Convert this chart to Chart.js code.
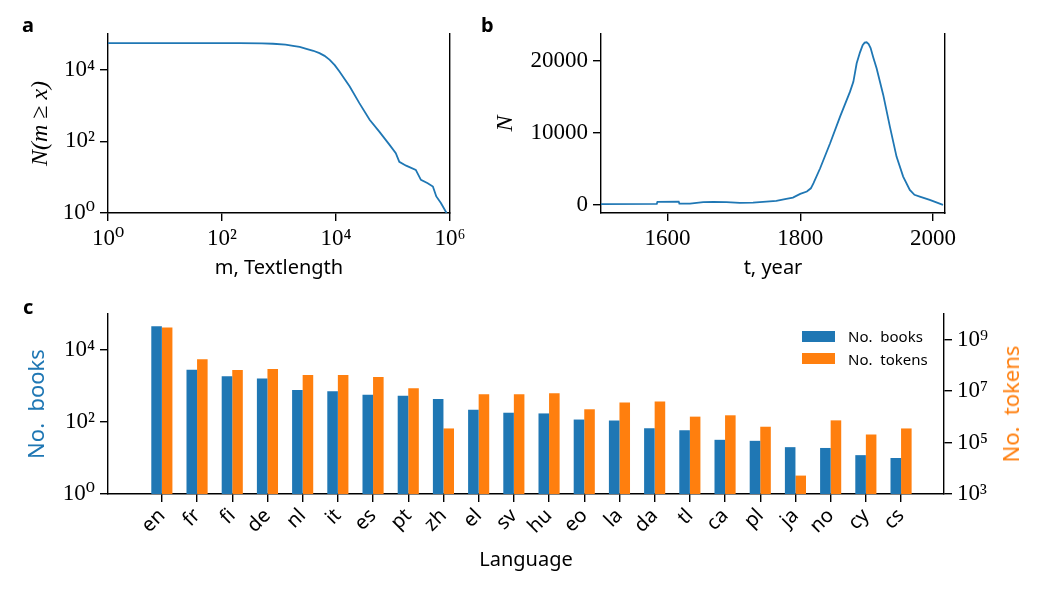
<!DOCTYPE html>
<html>
<head>
<meta charset="utf-8">
<script src="https://cdn.jsdelivr.net/npm/chart.js@4.4.0/dist/chart.umd.min.js"></script>
<style>
body { margin: 0; background: #fff; }
#fig { position: relative; width: 1050px; height: 600px; background: #fff; font-family: "Noto Sans", sans-serif; }
#fig canvas { position: absolute; }
.panel { position: absolute; font-weight: bold; font-size: 20px; line-height: 20px; color: #000; }
.legend { position: absolute; font-size: 15px; line-height: 18px; color: #000; white-space: nowrap; }
.swatch { position: absolute; width: 33px; height: 11px; }
#tokTitle { position: absolute; left: 1010px; top: 404px; transform: translate(-50%, -50%) rotate(-90deg);
  font-size: 22px; color: #ff7f0e; white-space: nowrap; }
</style>
</head>
<body>
<div id="fig">
  <canvas id="panelA" width="470" height="290" style="left:0px;top:0px"></canvas>
  <canvas id="panelB" width="580" height="290" style="left:470px;top:0px"></canvas>
  <canvas id="panelC" width="1050" height="310" style="left:0px;top:290px"></canvas>
  <div class="panel" style="left:22px;top:15px">a</div>
  <div class="panel" style="left:481px;top:15px">b</div>
  <div class="panel" style="left:23px;top:297px">c</div>
  <div class="swatch" style="left:802px;top:331px;background:#1f77b4"></div>
  <div class="swatch" style="left:802px;top:353px;background:#ff7f0e"></div>
  <div class="legend" style="left:848px;top:327px">No.&nbsp; books</div>
  <div class="legend" style="left:848px;top:350px">No.&nbsp; tokens</div>
  <div id="tokTitle">No.&nbsp; tokens</div>
</div>

<script>
// ---- panel a: number of books with length >= m
var textLength = [1, 10, 100, 204, 500, 785, 1300, 1760, 2300, 3020, 4000, 5130, 6300, 7760, 9500, 11500,
  17400, 25700, 38900, 57500, 87100, 112000, 129000, 170000, 251000, 309000, 407000, 501000, 575000, 692000, 871000];
var nAtLeast = [55900, 55900, 55900, 55900, 55000, 53400, 50500, 46900, 43500, 38700, 34000, 29300, 24500, 19000, 13500, 8950,
  3400, 1170, 400, 187, 80, 47, 27, 21, 16, 8.4, 6.8, 5.5, 2.9, 1.9, 1];
var aXTicks = [1, 100, 1e4, 1e6];
var aYTicks = [1, 100, 1e4];

// ---- panel b: books per year
var years = [1500, 1584, 1585, 1617, 1618, 1634, 1654, 1669, 1689, 1709, 1729, 1749, 1764, 1779, 1789,
  1800, 1810, 1816, 1820, 1830, 1845, 1860, 1875, 1880, 1885, 1890, 1894, 1897, 1900, 1903, 1906, 1910, 1915, 1925,
  1935, 1945, 1955, 1965, 1972, 1980, 1995, 2015];
var booksPerYear = [100, 140, 420, 460, 185, 185, 370, 420, 370, 280, 325, 460, 555, 830, 1020,
  1530, 1850, 2300, 3010, 5090, 8560, 12270, 15740, 17100, 19680, 21200, 22200, 22550, 22600, 22350, 21800, 20500, 19000, 15280,
  10880, 6710, 3930, 2080, 1400, 1160, 690, 0];
var bXTicks = [1600, 1800, 2000];
var bYTicks = [0, 10000, 20000];

// ---- panel c: books and tokens per language
var langs = ['en', 'fr', 'fi', 'de', 'nl', 'it', 'es', 'pt', 'zh', 'el', 'sv', 'hu', 'eo', 'la', 'da', 'tl',
  'ca', 'pl', 'ja', 'no', 'cy', 'cs'];
var books = [46000, 2810, 1880, 1620, 776, 713, 575, 540, 435, 219, 181, 173, 117, 110, 67, 59, 32, 30, 20, 19, 12, 10];
var tokens = [2.96e9, 1.75e8, 6.7e7, 7.3e7, 4.24e7, 4.24e7, 3.54e7, 1.31e7, 3.54e5, 7.6e6, 7.6e6, 8.3e6, 1.97e6,
  3.6e6, 3.94e6, 1.02e6, 1.15e6, 4.13e5, 5200, 7.3e5, 2.06e5, 3.54e5];
var cBookTicks = [1, 100, 1e4];
var cTokenTicks = [1e3, 1e5, 1e7, 1e9];

var BLUE = '#1f77b4', ORANGE = '#ff7f0e';
var SERIF = '"Liberation Serif", "DejaVu Serif", serif';
var SANS = '"Noto Sans", sans-serif';
var tickFont = {family: SERIF, size: 23};
var sup = ['\u2070', '\u00b9', '\u00b2', '\u00b3', '\u2074', '\u2075', '\u2076', '\u2077', '\u2078', '\u2079'];

Chart.defaults.color = '#000';
Chart.defaults.animation = false;
Chart.defaults.plugins.legend.display = false;
Chart.defaults.plugins.tooltip.enabled = false;

function pow10(v) {
  return '10' + sup[Math.round(Math.log10(v))];
}
function fixTicks(list) {
  return function(scale) { scale.ticks = list.map(function(v) { return {value: v}; }); };
}
function grid() {
  return {drawOnChartArea: false, color: '#000', lineWidth: 1.4, tickLength: 8, offset: false};
}
function border() {
  return {display: true, color: '#000', width: 1.4};
}
function rightSpine(w) {
  return {position: 'right', display: true, grid: {display: false}, ticks: {display: false},
    border: border(), afterFit: function(s) { s.width = w; }};
}
function xy(xs, ys) {
  return xs.map(function(x, i) { return {x: x, y: ys[i]}; });
}

new Chart(document.getElementById('panelA'), {
  type: 'scatter',
  data: {datasets: [{data: xy(textLength, nAtLeast), showLine: true, pointRadius: 0,
    borderColor: BLUE, borderWidth: 1.8}]},
  options: {
    responsive: false,
    layout: {padding: {top: 34, left: 0, right: 0, bottom: 0}},
    scales: {
      x: {type: 'logarithmic', min: 1, max: 1e6, grid: grid(), border: border(),
        afterBuildTicks: fixTicks(aXTicks),
        ticks: {font: tickFont, padding: 4, maxRotation: 0, autoSkip: false, callback: pow10},
        title: {display: true, text: 'm, Textlength', font: {family: SANS, size: 20}, padding: {top: 0, bottom: 10}},
        afterFit: function(s) { s.height = 77; }},
      y: {type: 'logarithmic', min: 1, max: 1e5, grid: grid(), border: border(),
        afterBuildTicks: fixTicks(aYTicks),
        ticks: {font: tickFont, padding: 5, callback: pow10},
        title: {display: true, text: 'N(m \u2265 x)', font: {family: SERIF, size: 24, style: 'italic'}, padding: {top: 26, bottom: 0}},
        afterFit: function(s) { s.width = 108; }},
      y2: rightSpine(20)
    }
  }
});

new Chart(document.getElementById('panelB'), {
  type: 'scatter',
  data: {datasets: [{data: xy(years, booksPerYear), showLine: true, pointRadius: 0,
    borderColor: BLUE, borderWidth: 1.8}]},
  options: {
    responsive: false,
    layout: {padding: {top: 34, left: 0, right: 0, bottom: 0}},
    scales: {
      x: {type: 'linear', min: 1500, max: 2018, grid: grid(), border: border(),
        afterBuildTicks: fixTicks(bXTicks),
        ticks: {font: tickFont, padding: 4, maxRotation: 0, autoSkip: false, callback: function(v) { return String(v); }},
        title: {display: true, text: 't, year', font: {family: SANS, size: 20}, padding: {top: 0, bottom: 10}},
        afterFit: function(s) { s.height = 77; }},
      y: {type: 'linear', min: -1130, max: 23750, grid: grid(), border: border(),
        afterBuildTicks: fixTicks(bYTicks),
        ticks: {font: tickFont, padding: 5, callback: function(v) { return String(v); }},
        title: {display: true, text: 'N', font: {family: SERIF, size: 24, style: 'italic'}, padding: {top: 21, bottom: 0}},
        afterFit: function(s) { s.width = 131; }},
      y2: rightSpine(105)
    }
  }
});

new Chart(document.getElementById('panelC'), {
  type: 'bar',
  data: {datasets: [
    {label: 'No. books', data: xy(langs.map(function(l, i) { return i; }), books), backgroundColor: BLUE, yAxisID: 'y'},
    {label: 'No. tokens', data: xy(langs.map(function(l, i) { return i; }), tokens), backgroundColor: ORANGE, yAxisID: 'y2'}
  ]},
  options: {
    responsive: false,
    categoryPercentage: 0.6,
    barPercentage: 1.0,
    layout: {padding: {top: 24, left: 0, right: 0, bottom: 0}},
    scales: {
      x: {type: 'linear', min: -1.53, max: 22.22, offset: false, grid: grid(), border: border(),
        afterBuildTicks: fixTicks(langs.map(function(l, i) { return i; })),
        ticks: {font: {family: SANS, size: 20}, padding: 2, minRotation: 45, maxRotation: 45, autoSkip: false,
          callback: function(v) { return langs[v] || ''; }},
        title: {display: true, text: 'Language', font: {family: SANS, size: 20}, padding: {top: 0, bottom: 28}},
        afterFit: function(s) { s.height = 106; }},
      y: {type: 'logarithmic', position: 'left', min: 1, max: 1e5, grid: grid(), border: border(),
        afterBuildTicks: fixTicks(cBookTicks),
        ticks: {font: tickFont, padding: 5, callback: pow10},
        title: {display: true, text: 'No.  books', color: BLUE, font: {family: SANS, size: 22}, padding: {top: 25, bottom: 0}},
        afterFit: function(s) { s.width = 108; }},
      y2: {type: 'logarithmic', position: 'right', min: 1e3, max: 1e10, grid: grid(), border: border(),
        afterBuildTicks: fixTicks(cTokenTicks),
        ticks: {font: tickFont, padding: 5, callback: pow10},
        afterFit: function(s) { s.width = 106; }}
    }
  }
});
</script>
</body>
</html>
